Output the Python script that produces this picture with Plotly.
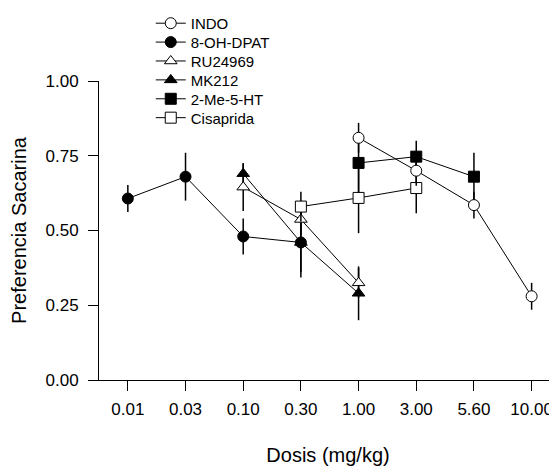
import plotly.graph_objects as go

doses = ["0.01", "0.03", "0.10", "0.30", "1.00", "3.00", "5.60", "10.00"]

indo_x = ["1.00", "3.00", "5.60", "10.00"]
indo_y = [0.81, 0.70, 0.585, 0.28]
indo_e = [0.05, 0.05, 0.045, 0.045]

dpat_x = ["0.01", "0.03", "0.10", "0.30"]
dpat_y = [0.607, 0.68, 0.48, 0.46]
dpat_e = [0.045, 0.08, 0.06, 0.117]

ru_x = ["0.10", "0.30", "1.00"]
ru_y = [0.645, 0.537, 0.325]
ru_e = [0.08, 0.05, 0.05]

mk_x = ["0.10", "0.30", "1.00"]
mk_y = [0.69, 0.46, 0.29]
mk_e = [0.035, 0.10, 0.09]

me_x = ["1.00", "3.00", "5.60"]
me_y = [0.726, 0.747, 0.68]
me_e = [0.10, 0.053, 0.08]

cis_x = ["0.30", "1.00", "3.00"]
cis_y = [0.58, 0.609, 0.642]
cis_e = [0.05, 0.118, 0.084]

FONT = "Liberation Sans, Arial, sans-serif"
LEG_X = 0.113
LEG_Y0 = 1.2477
LEG_STEP = 0.0632

def trace(name, x, y, e, symbol, filled, row):
    return go.Scatter(
        x=x, y=y, name=name, mode="lines+markers",
        legend="legend" if row == 0 else f"legend{row + 1}",
        line=dict(color="black", width=1),
        marker=dict(symbol=symbol, size=11,
                    color="black" if filled else "white",
                    line=dict(color="black", width=1)),
        error_y=dict(type="data", array=e, visible=True, color="black",
                     thickness=1.5, width=0),
    )

fig = go.Figure()
fig.add_trace(trace("MK212", mk_x, mk_y, mk_e, "triangle-up", True, 3))
fig.add_trace(trace("8-OH-DPAT", dpat_x, dpat_y, dpat_e, "circle", True, 1))
fig.add_trace(trace("RU24969", ru_x, ru_y, ru_e, "triangle-up", False, 2))
fig.add_trace(trace("Cisaprida", cis_x, cis_y, cis_e, "square", False, 5))
fig.add_trace(trace("2-Me-5-HT", me_x, me_y, me_e, "square", True, 4))
fig.add_trace(trace("INDO", indo_x, indo_y, indo_e, "circle", False, 0))

legends = {}
for i in range(6):
    key = "legend" if i == 0 else f"legend{i + 1}"
    legends[key] = dict(x=LEG_X, y=LEG_Y0 - LEG_STEP * i, xanchor="left", yanchor="top",
                        font=dict(size=15, family=FONT),
                        bgcolor="rgba(0,0,0,0)", itemclick=False)

# page body has an 8px margin, so the figure is sized to fit the window
fig.update_layout(
    width=549, height=458,
    margin=dict(l=91, r=0, t=73, b=86, autoexpand=False),
    paper_bgcolor="white", plot_bgcolor="white",
    font=dict(family=FONT, color="black", size=17),
    showlegend=True,
    **legends,
    xaxis=dict(
        type="category", categoryorder="array", categoryarray=doses,
        range=[-0.5, 7.44], showgrid=False, zeroline=False, automargin=False,
        showline=True, linecolor="black", linewidth=1,
        ticks="outside", ticklen=10, tickcolor="black", tickwidth=1,
        tickfont=dict(size=17), ticklabelstandoff=4,
        title=dict(text="Dosis (mg/kg)", font=dict(size=20), standoff=31),
    ),
    yaxis=dict(
        range=[0, 1.0], tickvals=[0, 0.25, 0.5, 0.75, 1.0],
        ticktext=["0.00", "0.25", "0.50", "0.75", "1.00"],
        showgrid=False, zeroline=False, automargin=False,
        showline=True, linecolor="black", linewidth=1,
        ticks="outside", ticklen=10, tickcolor="black", tickwidth=1,
        tickfont=dict(size=17), ticklabelstandoff=6,
        title=dict(text="Preferencia Sacarina", font=dict(size=20), standoff=14),
    ),
)

fig.write_html("out.html")
